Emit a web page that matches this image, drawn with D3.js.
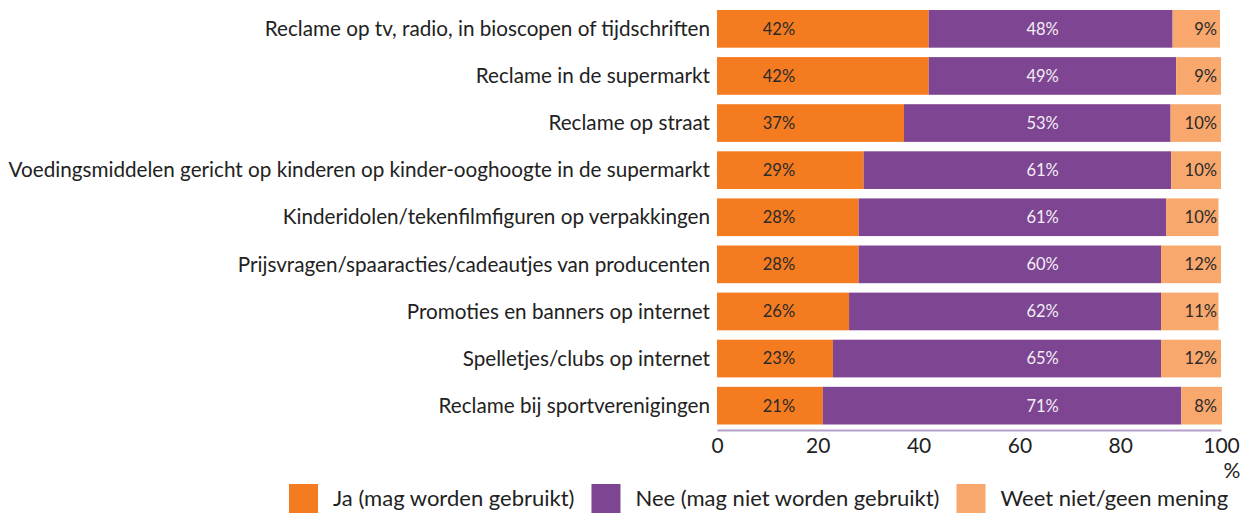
<!DOCTYPE html>
<html><head><meta charset="utf-8">
<script src="https://cdn.jsdelivr.net/npm/d3@7"></script>
<style>body{margin:0;background:#fff}svg{display:block}text{font-family:Lato,"Open Sans",sans-serif}</style>
</head><body><svg id="c" width="1249" height="514"></svg>
<script>
const categories = [
  "Reclame op tv, radio, in bioscopen of tijdschriften",
  "Reclame in de supermarkt",
  "Reclame op straat",
  "Voedingsmiddelen gericht op kinderen op kinder-ooghoogte in de supermarkt",
  "Kinderidolen/tekenfilmfiguren op verpakkingen",
  "Prijsvragen/spaaracties/cadeautjes van producenten",
  "Promoties en banners op internet",
  "Spelletjes/clubs op internet",
  "Reclame bij sportverenigingen"
];
const ja   = [42.0, 42.0, 37.1, 29.1, 28.1, 28.1, 26.2, 23.0, 21.0];
const nee  = [48.4, 49.1, 52.9, 61.0, 61.0, 60.0, 61.9, 65.1, 71.1];
const weet = [9.4, 8.9, 10.0, 9.9, 10.4, 11.9, 11.4, 11.9, 8.1];
const seriesNames = ["Ja (mag worden gebruikt)", "Nee (mag niet worden gebruikt)", "Weet niet/geen mening"];
const seriesColors = ["#f47b20", "#7e4592", "#f8a86d"];
const labelColors = ["#2a2a2a", "#f2eef5", "#2a2a2a"];
const xTicks = [0, 20, 40, 60, 80, 100];

const svg = d3.select("#c");
const x = d3.scaleLinear().domain([0, 100]).range([717, 1221]);
const y = d3.scaleBand().domain(categories).range([10, 424.5]).paddingInner(0.2).paddingOuter(0);

const rows = categories.map((c, i) => ({cat: c, vals: [ja[i], nee[i], weet[i]]}));

// bars
rows.forEach(r => {
  let acc = 0;
  r.vals.forEach((v, k) => {
    svg.append("rect")
      .attr("x", x(acc)).attr("y", y(r.cat))
      .attr("width", x(acc + v) - x(acc)).attr("height", y.bandwidth())
      .attr("fill", seriesColors[k]);
    acc += v;
  });
});

// value labels
const labelPos = [12.3, 64.6, 99.2];
const anchors = ["middle", "middle", "end"];
rows.forEach(r => {
  r.vals.forEach((v, k) => {
    svg.append("text")
      .attr("x", x(labelPos[k])).attr("y", y(r.cat) + y.bandwidth() / 2)
      .attr("dy", "0.36em").attr("text-anchor", anchors[k])
      .attr("font-size", 16.5).attr("fill", labelColors[k])
      .text(Math.round(v) + "%");
  });
});

// category labels
const catG = svg.append("g");
const catTexts = catG.selectAll("text").data(categories).join("text")
  .attr("x", 710).attr("y", d => y(d) + y.bandwidth() / 2)
  .attr("dy", "0.35em").attr("text-anchor", "end")
  .attr("font-size", 18).attr("fill", "#222").text(d => d);
let maxW = 0;
catTexts.each(function () { maxW = Math.max(maxW, this.getComputedTextLength()); });
const fs = 18 * 702 / maxW;
catTexts.attr("font-size", fs);

// axis
const axisY = 430;
const axis = d3.axisBottom(x).tickValues(xTicks).tickSize(0).tickPadding(8).tickFormat(d3.format("d"));
const ag = svg.append("g").attr("transform", `translate(0,${axisY})`).call(axis);
ag.select(".domain").attr("stroke", "#b59fcc").attr("stroke-width", 2);
ag.selectAll(".tick text").attr("font-size", 21).attr("fill", "#222").attr("font-family", "Lato, sans-serif");
svg.append("text").attr("x", 1232).attr("y", 478).attr("text-anchor", "middle")
  .attr("font-size", 21).attr("fill", "#222").text("%");

// legend
let lx = 289;
const ly = 484, sw = 29;
seriesNames.forEach((n, k) => {
  svg.append("rect").attr("x", lx).attr("y", ly).attr("width", sw).attr("height", sw).attr("fill", seriesColors[k]);
  const t = svg.append("text").attr("x", lx + sw + 15).attr("y", ly + sw / 2)
    .attr("dy", "0.35em").attr("font-size", 22).attr("fill", "#222").text(n);
  lx += sw + 15 + t.node().getComputedTextLength() + 17;
});
</script></body></html>
